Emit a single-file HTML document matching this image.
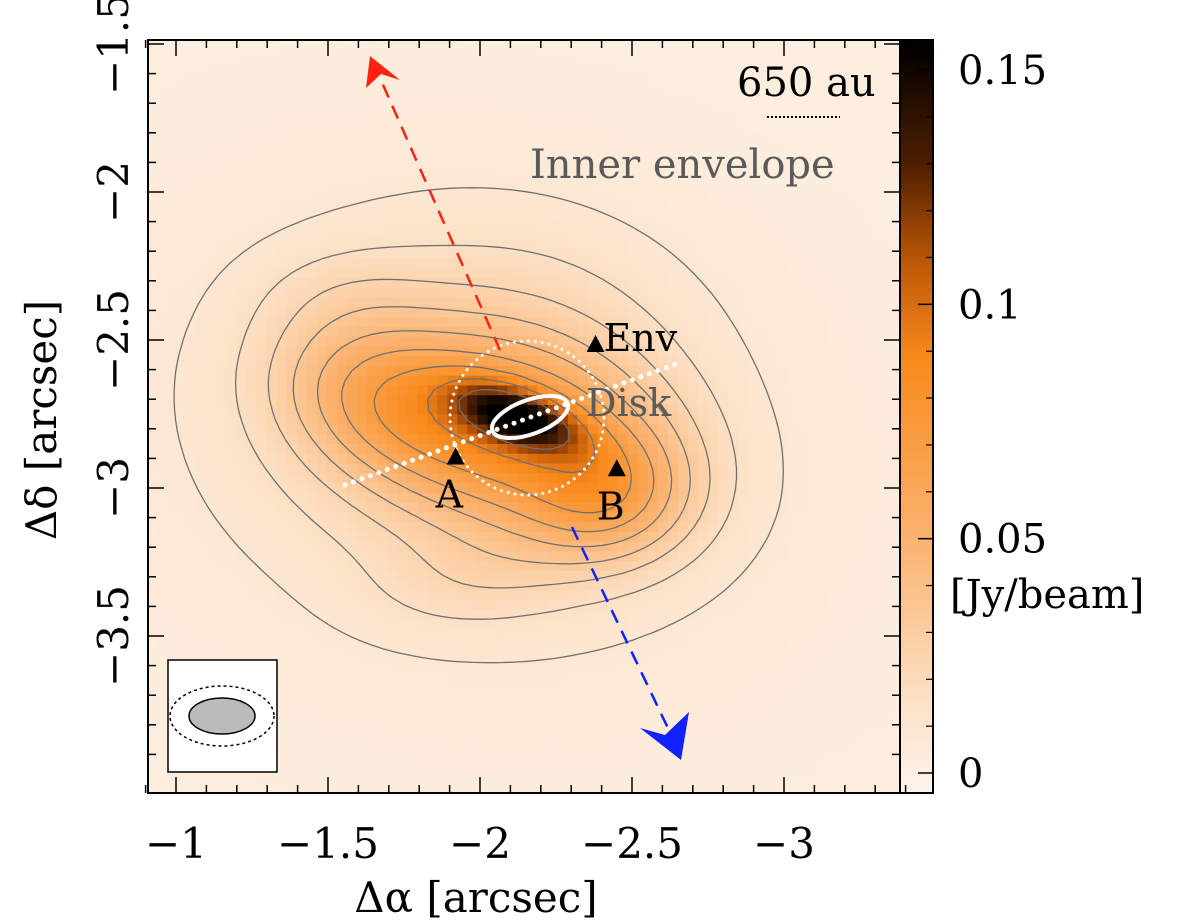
<!DOCTYPE html>
<html><head><meta charset="utf-8"><style>
html,body{margin:0;padding:0;background:#fff}
svg{display:block;font-family:"DejaVu Serif","Liberation Serif",serif}
</style></head><body>
<svg id="chart" width="1200" height="924" viewBox="0 0 1200 924">
<defs><clipPath id="clip"><rect x="148" y="40" width="752" height="753"/></clipPath>
<linearGradient id="cbar" x1="0" y1="1" x2="0" y2="0"></linearGradient></defs>
<g id="heat" clip-path="url(#clip)"></g>
<g id="cont" clip-path="url(#clip)"></g>
<g id="over"></g>
<g id="axes"></g>
</svg>
<script>
// ---- data ----
const xTicks=[-1,-1.5,-2,-2.5,-3];
const xTickLabels=["−1","−1.5","−2","−2.5","−3"];
const yTicks=[-1.5,-2,-2.5,-3,-3.5];
const yTickLabels=["−1.5","−2","−2.5","−3","−3.5"];
const cTicks=[0,0.05,0.1,0.15];
const cTickLabels=["0","0.05","0.1","0.15"];
// gaussian components: centre RA, centre Dec, sigma major, sigma minor (arcsec), PA deg, amplitude Jy/beam
const compRA=[-2.12,-2.12,-2.42,-1.68,-1.95,-2.20,-1.55,-2.0];
const compDec=[-2.76,-2.82,-3.02,-2.70,-2.84,-2.35,-2.35,-3.3];
const compSa=[0.14,0.33,0.17,0.23,0.64,0.42,0.2,0.25];
const compSb=[0.06,0.21,0.14,0.16,0.48,0.28,0.12,0.12];
const compPA=[20,15,0,20,15,10,0,-10];
const compAmp=[0.085,0.058,0.032,0.03,0.021,0.006,0.006,0.007];
const background=0.006;
const contourLevels=[0.013,0.02,0.028,0.037,0.048,0.06,0.075,0.095,0.12];
const markerNames=["A","B","Env"];
const markerRA=[-1.92,-2.45,-2.38];
const markerDec=[-2.89,-2.93,-2.51];

// ---- axes functions ----
const X=v=>176+(-1-v)*304;
const Y=v=>44+(-1.5-v)*296;
const C=v=>773-v*(773-70)/0.15;
const NS="http://www.w3.org/2000/svg";
function mk(tag,attrs,parent){const e=document.createElementNS(NS,tag);for(const k in attrs)e.setAttribute(k,attrs[k]);parent.appendChild(e);return e;}
const stops=[[0,[253,244,235]],[0.02,[252,224,196]],[0.05,[251,182,118]],[0.09,[249,138,28]],[0.11,[190,88,8]],[0.13,[80,32,0]],[0.155,[0,0,0]]];
function col(v){if(v<=0)return 'rgb(253,244,235)';for(let i=1;i<stops.length;i++){if(v<=stops[i][0]){const a=stops[i-1],b=stops[i],t=(v-a[0])/(b[0]-a[0]);return 'rgb('+a[1].map((c,j)=>Math.round(c+(b[1][j]-c)*t)).join(',')+')';}}return 'rgb(0,0,0)';}
function field(ra,dec){let s=background;for(let i=0;i<compAmp.length;i++){const dx=ra-compRA[i],dy=dec-compDec[i];const p=compPA[i]*Math.PI/180;const u=dx*Math.cos(p)+dy*Math.sin(p),w=-dx*Math.sin(p)+dy*Math.cos(p);s+=compAmp[i]*Math.exp(-0.5*(u*u/(compSa[i]*compSa[i])+w*w/(compSb[i]*compSb[i])));}return s;}
const heat=document.getElementById('heat');
const step=0.033,gridRA=[],gridDec=[];
for(let ra=-0.92;ra>=-3.52;ra-=step)gridRA.push(ra);
for(let d=-1.45;d>=-4.1;d-=step)gridDec.push(d);
const F=gridDec.map(d=>gridRA.map(r=>field(r,d)));
gridDec.forEach((d,j)=>gridRA.forEach((r,i)=>{
 const px=X(r),py=Y(d),w=Math.abs(X(r-step)-px)+0.6,h=Math.abs(Y(d-step)-py)+0.6;
 const e=mk('rect',{x:px-w/2,y:py-h/2,width:w,height:h,fill:col(F[j][i])},heat);
 
 
}));
const cont=document.getElementById('cont');
contourLevels.forEach(L=>{let d='';
 for(let j=0;j<gridDec.length-1;j++)for(let i=0;i<gridRA.length-1;i++){
  const v=[F[j][i],F[j][i+1],F[j+1][i+1],F[j+1][i]];
  const P=[[X(gridRA[i]),Y(gridDec[j])],[X(gridRA[i+1]),Y(gridDec[j])],[X(gridRA[i+1]),Y(gridDec[j+1])],[X(gridRA[i]),Y(gridDec[j+1])]];
  const pts=[];
  for(let k=0;k<4;k++){const a=v[k],b=v[(k+1)%4];if((a<L)!==(b<L)){const t=(L-a)/(b-a);const A=P[k],B=P[(k+1)%4];pts.push([A[0]+(B[0]-A[0])*t,A[1]+(B[1]-A[1])*t]);}}
  for(let k=0;k+1<pts.length;k+=2)d+='M'+pts[k][0].toFixed(1)+' '+pts[k][1].toFixed(1)+'L'+pts[k+1][0].toFixed(1)+' '+pts[k+1][1].toFixed(1);
 }
 const e=mk('path',{d:d,stroke:'#707070','stroke-width':1.3,fill:'none'},cont);
 
 
});
const over=document.getElementById('over');
let e;
e=mk('line',{x1:500,y1:350,x2:380,y2:78,stroke:'#f21',"stroke-width":2.5,"stroke-dasharray":"14 9"},over);

e=mk('path',{d:'M370 56 L366 88 L381 74 L400 80 Z',fill:'#f21'},over);

e=mk('line',{x1:572,y1:527,x2:676,y2:745,stroke:'#12f',"stroke-width":2.5,"stroke-dasharray":"14 9"},over);

e=mk('path',{d:'M681 760 L640 728 L665 735 L689 712 Z',fill:'#12f'},over);

e=mk('line',{x1:345,y1:485,x2:676,y2:364,stroke:'#fff',"stroke-width":5,"stroke-dasharray":"0 9","stroke-linecap":"round"},over);

e=mk('circle',{cx:527,cy:418,r:77,stroke:'#fff',"stroke-width":3,fill:'none',"stroke-dasharray":"0 7","stroke-linecap":"round"},over);

e=mk('ellipse',{cx:530,cy:417,rx:40,ry:17,transform:'rotate(-20 530 417)',stroke:'#fff',"stroke-width":4,fill:'none'},over);

markerNames.forEach((n,i)=>{const x=X(markerRA[i]),y=Y(markerDec[i]);
 const t=mk('path',{d:`M${x-9} ${y+9}L${x} ${y-8}L${x+9} ${y+9}Z`,fill:'#000'},over);
 
 
 const lx=n==='Env'?x+8:x-20, ly=n==='Env'?y+8:y+52;
 const l=mk('text',{x:lx,y:ly,"font-size":38,fill:'#000'},over);l.textContent=n;
 
 
});
e=mk('text',{x:586,y:416,"font-size":38,fill:'#5a5a5a'},over);e.textContent='Disk';

e=mk('text',{x:530,y:178,"font-size":40,fill:'#5a5a5a'},over);e.textContent='Inner envelope';

e=mk('text',{x:737,y:96,"font-size":40,fill:'#000'},over);e.textContent='650 au';

e=mk('line',{x1:767,y1:117,x2:840,y2:117,stroke:'#000',"stroke-width":2,"stroke-dasharray":"2 2"},over);

e=mk('rect',{x:168,y:660,width:109,height:112,fill:'#fff',stroke:'#000',"stroke-width":1.5},over);

e=mk('ellipse',{cx:222,cy:716,rx:52,ry:30,fill:'none',stroke:'#000',"stroke-width":1.5,"stroke-dasharray":"3 3"},over);

e=mk('ellipse',{cx:222,cy:716,rx:33,ry:18,fill:'#bbb',stroke:'#000',"stroke-width":1.5},over);

const g=document.getElementById('cbar');
for(let k=0;k<=16;k++){const v=0.16*k/16;mk('stop',{offset:(v/((773-40)/(773-70)*0.15)),"stop-color":col(v)},g);}
const ax=document.getElementById('axes');
e=mk('rect',{x:900,y:40,width:33,height:753,fill:'url(#cbar)',stroke:'#000',"stroke-width":2},ax);

cTicks.forEach((v,i)=>{const y=C(v);mk('line',{x1:918,x2:933,y1:y,y2:y,stroke:'#000','stroke-width':1.5},ax);
 const t=mk('text',{x:958,y:y+14,"font-size":40},ax);t.textContent=cTickLabels[i];
 });
for(let v=0.01;v<0.16;v+=0.01){const y=C(v);mk('line',{x1:926,x2:933,y1:y,y2:y,stroke:'#000','stroke-width':1.2},ax);}
e=mk('text',{x:950,y:608,"font-size":40},ax);e.textContent='[Jy/beam]';

e=mk('rect',{x:148,y:40,width:752,height:753,fill:'none',stroke:'#000','stroke-width':2},ax);

for(let v=-0.9;v>=-3.45;v-=0.1){const x=X(v);const maj=Math.abs(v*2-Math.round(v*2))<1e-6;const L=maj?16:8;
 mk('line',{x1:x,x2:x,y1:793,y2:793-L,stroke:'#000','stroke-width':1.5},ax);mk('line',{x1:x,x2:x,y1:40,y2:40+L,stroke:'#000','stroke-width':1.5},ax);}
for(let v=-1.5;v>=-4.0;v-=0.1){const y=Y(v);if(y>793)break;const maj=Math.abs(v*2-Math.round(v*2))<1e-6;const L=maj?16:8;
 mk('line',{x1:148,x2:148+L,y1:y,y2:y,stroke:'#000','stroke-width':1.5},ax);mk('line',{x1:900,x2:900-L,y1:y,y2:y,stroke:'#000','stroke-width':1.5},ax);}
xTicks.forEach((v,i)=>{const t=mk('text',{x:X(v),y:858,"font-size":42,"text-anchor":"middle"},ax);t.textContent=xTickLabels[i];
 });
yTicks.forEach((v,i)=>{const y=Y(v);const t=mk('text',{x:0,y:0,"font-size":42,"text-anchor":"middle",transform:`translate(128 ${y}) rotate(-90)`},ax);t.textContent=yTickLabels[i];
 });
e=mk('text',{x:476,y:912,"font-size":42,"text-anchor":"middle"},ax);e.textContent='Δα [arcsec]';

e=mk('text',{x:0,y:0,"font-size":42,"text-anchor":"middle",transform:'translate(56 420) rotate(-90)'},ax);e.textContent='Δδ [arcsec]';

</script>
</body></html>
